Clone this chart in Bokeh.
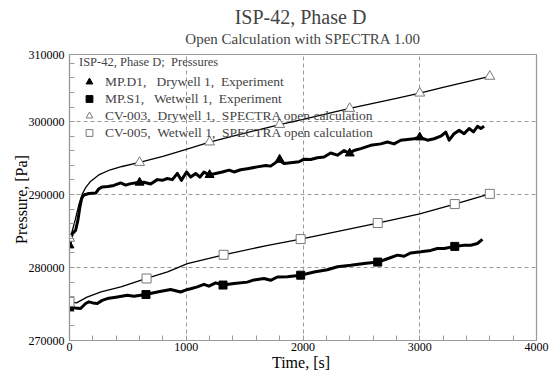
import math
from bokeh.plotting import figure
from bokeh.models import (FixedTicker, NumeralTickFormatter, Legend, LegendItem, Title)
from bokeh.embed import file_html
from bokeh.resources import INLINE

FONT = "Liberation Serif"

# ---------------- data ----------------
# MP.D1 Drywell 1, Experiment (line)
dw_exp_t = [0, 24, 52, 72, 89, 104, 123, 166, 224, 252, 281, 330, 380, 438, 481, 524, 590,
            638, 695, 752, 795, 838, 881, 924, 958, 1003, 1038, 1081, 1117, 1152, 1194,
            1252, 1309, 1366, 1409, 1466, 1523, 1609, 1680, 1723, 1794, 1837, 1894, 1966,
            2009, 2066, 2123, 2180, 2237, 2295, 2352, 2395, 2437, 2495, 2580, 2666, 2723,
            2780, 2837, 2895, 2951, 3003, 3066, 3123, 3180, 3223, 3252, 3294, 3337, 3380,
            3423, 3460, 3495, 3523, 3551]
dw_exp_p = [283050, 284650, 285100, 286500, 288300, 289450, 289950, 290150, 290200, 290800,
            291050, 291100, 291250, 291600, 291300, 291500, 291650, 291700, 291450, 292050,
            291950, 292200, 292050, 292900, 291950, 293100, 292400, 292900, 292400, 293100,
            292700, 292900, 293100, 293350, 293100, 293400, 293550, 293800, 294000, 293900,
            294700, 294250, 294350, 294500, 294850, 294800, 295050, 295150, 295700, 295400,
            296050, 295650, 296050, 296300, 296750, 296950, 297200, 296950, 297450, 297550,
            297650, 297850, 297450, 297650, 298000, 298550, 297450, 298350, 298800, 298350,
            299050, 298600, 299350, 299050, 299350]
dw_exp_mk_t = [0, 600, 1200, 1800, 2400, 3000]
dw_exp_mk_p = [283050, 291650, 292700, 294800, 295650, 297850]

# MP.S1 Wetwell 1, Experiment (line)
ww_exp_t = [0, 50, 95, 138, 166, 200, 238, 280, 324, 410, 495, 552, 652, 752, 866, 952, 1000,
            1038, 1095, 1152, 1194, 1252, 1314, 1409, 1523, 1580, 1666, 1723, 1780, 1866,
            1980, 2095, 2209, 2295, 2409, 2523, 2643, 2723, 2809, 2866, 2923, 3009, 3094,
            3151, 3209, 3302, 3380, 3437, 3494, 3537]
ww_exp_p = [274600, 274450, 274380, 275070, 275300, 275150, 275070, 275500, 275750, 275970,
            276200, 276070, 276300, 276650, 277000, 276650, 276950, 277100, 277350, 277700,
            277450, 277900, 277600, 277800, 278000, 278300, 278500, 278250, 278700, 278750,
            278950, 279400, 279700, 280100, 280300, 280550, 280750, 281200, 281700, 281550,
            282000, 282150, 282350, 282600, 282600, 282900, 283050, 283050, 283300, 283850]
ww_exp_mk_t = [0, 655, 1315, 1980, 2640, 3300]
ww_exp_mk_p = [274600, 276300, 277600, 278950, 280750, 282900]

# CV-003 Drywell 1, SPECTRA open calculation
dw_calc_t = [0, 20, 50, 80, 110, 140, 180, 250, 350, 450, 600, 800, 1000, 1200, 1400, 1600,
             1800, 2000, 2200, 2400, 2600, 2800, 3000, 3200, 3400, 3600]
dw_calc_p = [284000, 284800, 286600, 288600, 290100, 291000, 291800, 292700, 293400, 293850,
             294400, 295250, 296200, 297200, 298000, 298800, 299600, 300300, 301050, 301800,
             302500, 303200, 303900, 304700, 305450, 306200]
dw_calc_mk_t = [0, 600, 1200, 1800, 2400, 3000, 3600]
dw_calc_mk_p = [284000, 294400, 297200, 299600, 301800, 303900, 306200]

# CV-005 Wetwell 1, SPECTRA open calculation
ww_calc_t = [0, 60, 150, 270, 440, 660, 840, 1010, 1320, 1700, 1980, 2300, 2640, 3000, 3300, 3600]
ww_calc_p = [275300, 275150, 275950, 276650, 277350, 278500, 279400, 280550, 281750, 283050,
             283900, 284950, 286100, 287350, 288700, 290100]
ww_calc_mk_t = [0, 660, 1320, 1980, 2640, 3300, 3600]
ww_calc_mk_p = [275300, 278500, 281750, 283900, 286100, 288700, 290100]

x_ticks = [0, 1000, 2000, 3000, 4000]
y_ticks = [270000, 280000, 290000, 300000]
y_top = 309200          # top edge of the frame (drawn with the "310000" label)
y_top_label = "310000"

title_main = "ISP-42,  Phase D"
title_sub = "Open Calculation with SPECTRA 1.00"
x_label = "Time,  [s]"
y_label = "Pressure,  [Pa]"
legend_title = "ISP-42, Phase D;  Pressures"
labels = ["MP.D1,   Drywell 1,  Experiment",
          "MP.S1,   Wetwell 1,  Experiment",
          "CV-003,  Drywell 1,  SPECTRA open calculation",
          "CV-005,  Wetwell 1,  SPECTRA open calculation"]

# ---------------- figure ----------------
p = figure(width=554, height=374, x_range=(0, 4000), y_range=(270000, y_top),
           output_backend="svg", toolbar_location=None,
           min_border_left=69, min_border_right=18, min_border_top=54, min_border_bottom=34)
p.background_fill_color = "white"
p.border_fill_color = "white"
p.outline_line_color = "#9a9a9a"
p.outline_line_width = 1.2

p.xaxis.ticker = FixedTicker(ticks=x_ticks, minor_ticks=list(range(0, 4001, 200)))
p.yaxis.ticker = FixedTicker(ticks=y_ticks + [y_top],
                             minor_ticks=list(range(270000, y_top + 1, 2000)))
p.yaxis.formatter = NumeralTickFormatter(format="0")
p.xaxis.formatter = NumeralTickFormatter(format="0")
p.yaxis.major_label_overrides = {y_top: y_top_label}

for ax in (p.xaxis, p.yaxis):
    ax.axis_line_color = "#9a9a9a"
    ax.axis_line_width = 1.2
    ax.major_tick_line_color = None
    ax.major_tick_in = 0
    ax.major_tick_out = 0
    ax.minor_tick_line_color = "#9a9a9a"
    ax.minor_tick_in = 5
    ax.minor_tick_out = 0
    ax.major_label_text_font = FONT
    ax.major_label_text_font_size = "12px"
    ax.major_label_text_color = "black"
    ax.axis_label_text_font = FONT
    ax.axis_label_text_font_size = "16px"
    ax.axis_label_text_font_style = "normal"
    ax.axis_label_text_color = "black"
p.xaxis.major_label_standoff = 2
p.yaxis.major_label_standoff = 5
p.xaxis.axis_label = x_label
p.yaxis.axis_label = y_label
p.xaxis.axis_label_standoff = 0
p.yaxis.axis_label_standoff = -4

for g in (p.xgrid, p.ygrid):
    g.grid_line_color = "#9a9a9a"
    g.grid_line_dash = "4 3"
    g.grid_line_width = 1

# lines
p.line(dw_calc_t, dw_calc_p, line_color="black", line_width=1.3)
p.line(ww_calc_t, ww_calc_p, line_color="black", line_width=1.3)
p.line(dw_exp_t, dw_exp_p, line_color="black", line_width=3, line_join="round")
p.line(ww_exp_t, ww_exp_p, line_color="black", line_width=3, line_join="round")

# markers
r1 = p.scatter(dw_exp_mk_t, dw_exp_mk_p, marker="triangle", size=9,
               fill_color="black", line_color="black")
r2 = p.scatter(ww_exp_mk_t, ww_exp_mk_p, marker="square", size=8,
               fill_color="black", line_color="black")
r3 = p.scatter(dw_calc_mk_t, dw_calc_mk_p, marker="triangle", size=10,
               fill_color="white", line_color="#7a7a7a", line_width=1)
r4 = p.scatter(ww_calc_mk_t, ww_calc_mk_p, marker="square", size=9,
               fill_color="white", line_color="#7a7a7a", line_width=1)

legend = Legend(items=[LegendItem(label=labels[0], renderers=[r1]),
                       LegendItem(label=labels[1], renderers=[r2]),
                       LegendItem(label=labels[2], renderers=[r3]),
                       LegendItem(label=labels[3], renderers=[r4])],
                location=(10, 199), title=legend_title)
legend.margin = 0
legend.padding = 0
legend.spacing = 0
legend.glyph_width = 20
legend.glyph_height = 17
legend.label_height = 17
legend.label_standoff = 6
legend.title_standoff = 3
legend.background_fill_alpha = 0
legend.border_line_color = None
legend.label_text_font = FONT
legend.label_text_font_size = "13.5px"
legend.title_text_font = FONT
legend.title_text_font_size = "12.5px"
legend.title_text_font_style = "normal"
p.add_layout(legend)

# titles (first added sits closest to the frame)
p.add_layout(Title(text=title_sub, text_font=FONT, text_font_size="15px",
                   text_font_style="normal", align="center", standoff=16), "above")
p.add_layout(Title(text=title_main, text_font=FONT, text_font_size="20px",
                   text_font_style="normal", align="center", standoff=-15), "above")

open("out.html", "w").write(file_html(p, INLINE))
